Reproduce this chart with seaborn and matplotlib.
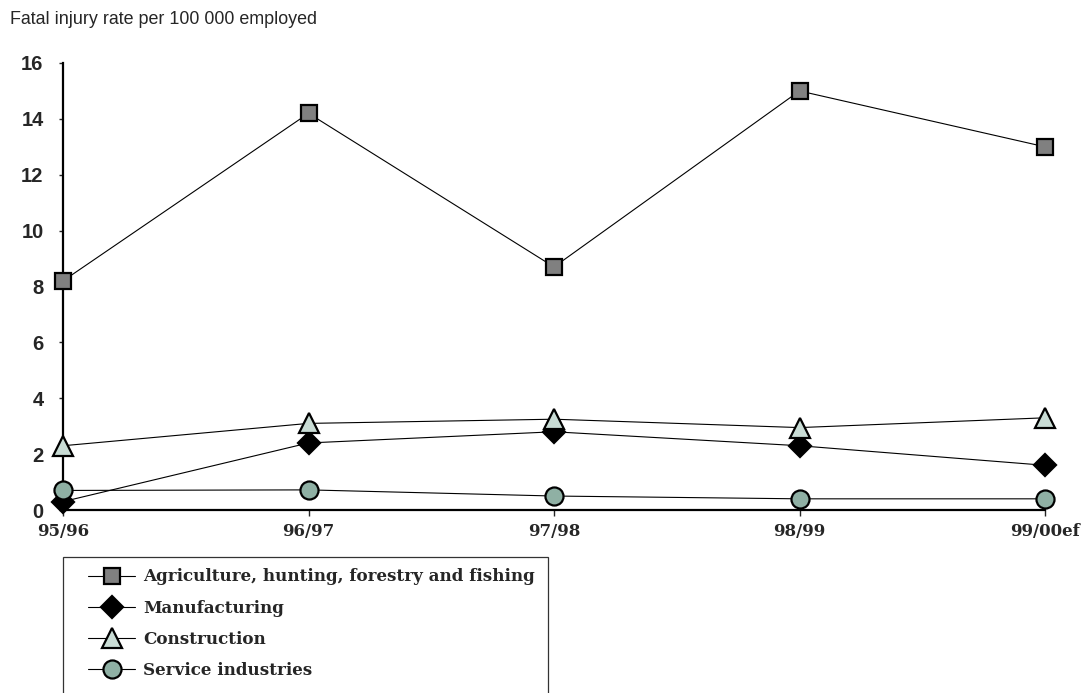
import matplotlib
matplotlib.use("Agg")
import matplotlib.pyplot as plt
import seaborn as sns
import pandas as pd
from matplotlib.patches import Rectangle

periods = ["95/96", "96/97", "97/98", "98/99", "99/00ef"]
agriculture = [8.2, 14.2, 8.7, 15.0, 13.0]
manufacturing = [0.3, 2.4, 2.8, 2.3, 1.6]
construction = [2.3, 3.1, 3.25, 2.95, 3.3]
services = [0.7, 0.72, 0.5, 0.4, 0.4]
y_ticks = [0, 2, 4, 6, 8, 10, 12, 14, 16]
title = "Fatal injury rate per 100 000 employed"

series = [
    ("Agriculture, hunting, forestry and fishing", agriculture, "s", "#808080", 11.5),
    ("Manufacturing", manufacturing, "D", "#000000", 11.5),
    ("Construction", construction, "^", "#c9dcd5", 14),
    ("Service industries", services, "o", "#8fb0a4", 13),
]

sns.set_style("white")
plt.rcParams["font.family"] = ["Liberation Sans", "DejaVu Sans"]

fig = plt.figure(figsize=(10.84, 6.93), dpi=100)
ax = fig.add_axes([63 / 1084, 1 - 510 / 693, (1045 - 63) / 1084, (510 - 63) / 693])

xpos = list(range(len(periods)))
for name, vals, mk, fc, ms in series:
    df = pd.DataFrame({"x": xpos, "y": vals})
    sns.lineplot(data=df, x="x", y="y", ax=ax, color="black", linewidth=0.8,
                 marker=mk, markersize=ms, markerfacecolor=fc,
                 markeredgecolor="black", markeredgewidth=1.6,
                 label=name, clip_on=False, zorder=3)

ax.set_xlim(0, len(periods) - 1)
ax.set_ylim(0, 16)
ax.set_xticks(xpos)
ax.set_xticklabels(periods, fontfamily="DejaVu Serif", fontweight="bold", fontsize=12)
ax.set_yticks(y_ticks)
ax.set_yticklabels([str(v) for v in y_ticks], fontweight="bold", fontsize=14.5)
ax.set_xlabel("")
ax.set_ylabel("")
for s in ["top", "right"]:
    ax.spines[s].set_visible(False)
for s in ["left", "bottom"]:
    ax.spines[s].set_linewidth(1.6)
    ax.spines[s].set_color("black")
ax.tick_params(axis="y", direction="out", length=3, width=1, pad=11, left=True)
ax.tick_params(axis="x", direction="out", length=4, width=1, pad=5, bottom=True)

handles, labels = ax.get_legend_handles_labels()
ax.get_legend().remove()
fig.legend(handles, labels, loc="upper left",
           bbox_to_anchor=(80 / 1084, 1 - 560 / 693), frameon=False,
           borderpad=0, handlelength=2.8, handletextpad=0.45, labelspacing=0.85,
           prop={"family": "DejaVu Serif", "weight": "bold", "size": 12.1})
fig.patches.append(Rectangle((63 / 1084, -0.05), (548 - 63) / 1084, 1 - 557 / 693 + 0.05,
                             transform=fig.transFigure, fill=False,
                             edgecolor="#333333", linewidth=0.9))

fig.text(10 / 1084, 1 - 20 / 693, title, fontsize=12.9, ha="left", va="center")

fig.savefig("out.png", dpi=100)
